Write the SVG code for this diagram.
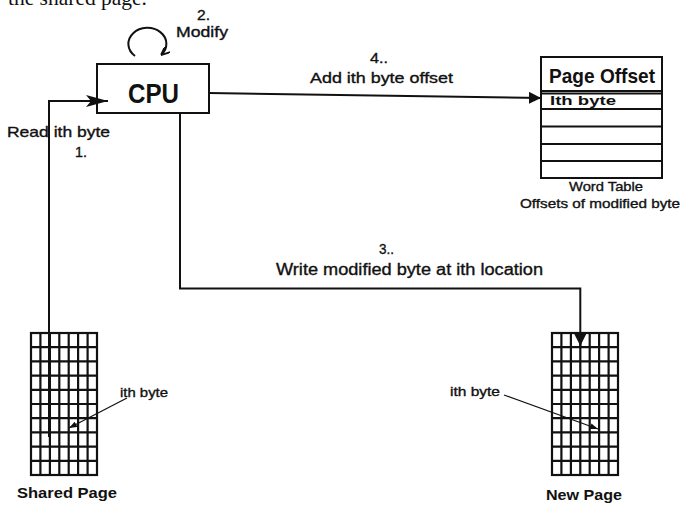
<svg xmlns="http://www.w3.org/2000/svg" width="681" height="505" viewBox="0 0 681 505">
<style>
  .lbl{font-family:"Liberation Sans",Arial,sans-serif;font-size:15px;fill:#111;stroke:#111;stroke-width:0.35px;}
  .sm{font-size:13px;}
  .b{font-weight:bold;stroke-width:0;}
  .ln{fill:none;stroke:#111;stroke-width:2;}
  .thin{fill:none;stroke:#111;stroke-width:1.2;}
  .grid{fill:#fff;stroke:#111;stroke-width:2.2;}
</style>
<defs>
  <marker id="tri" viewBox="0 0 12 12" refX="12" refY="6" markerWidth="12" markerHeight="12" markerUnits="userSpaceOnUse" orient="auto">
    <path d="M0,0 L12,6 L0,12 z" fill="#111"/>
  </marker>
  <marker id="barb" viewBox="0 0 22 12" refX="22" refY="6" markerWidth="22" markerHeight="12" markerUnits="userSpaceOnUse" orient="auto">
    <path d="M0,0 L22,6 L0,12 L5,6 z" fill="#111"/>
  </marker>
  <marker id="small" viewBox="0 0 8 6" refX="8" refY="3" markerWidth="8" markerHeight="6" markerUnits="userSpaceOnUse" orient="auto">
    <path d="M0,0 L8,3 L0,6 z" fill="#111"/>
  </marker>
  <marker id="loop" viewBox="0 0 9 8" refX="9" refY="4" markerWidth="9" markerHeight="8" markerUnits="userSpaceOnUse" orient="auto">
    <path d="M0,0 L9,4 L0,8" fill="none" stroke="#111" stroke-width="1.8"/>
  </marker>
</defs>
<rect width="681" height="505" fill="#fff"/>
<text x="8" y="5" font-family="Liberation Serif,'Times New Roman',serif" font-size="21" fill="#111" textLength="139" lengthAdjust="spacingAndGlyphs">the shared page.</text>

<g id="shared-page">
  <rect class="grid" x="31" y="333" width="66" height="142"/>
  <path class="grid" d="M40.4,333V475M49.9,333V475M59.3,333V475M68.7,333V475M78.1,333V475M87.6,333V475M31,347.2H97M31,361.4H97M31,375.6H97M31,389.8H97M31,404H97M31,418.2H97M31,432.4H97M31,446.6H97M31,460.8H97"/>
  <text class="lbl b" x="17" y="498" textLength="100" lengthAdjust="spacingAndGlyphs">Shared Page</text>
  <text class="lbl sm" x="120" y="397" textLength="48" lengthAdjust="spacingAndGlyphs">ith byte</text>
  <line class="thin" x1="127" y1="398" x2="69" y2="428" marker-end="url(#small)"/>
</g>

<g id="new-page">
  <rect class="grid" x="552" y="333" width="66" height="142"/>
  <path class="grid" d="M561.4,333V475M570.9,333V475M580.3,333V475M589.7,333V475M599.1,333V475M608.6,333V475M552,347.2H618M552,361.4H618M552,375.6H618M552,389.8H618M552,404H618M552,418.2H618M552,432.4H618M552,446.6H618M552,460.8H618"/>
  <text class="lbl b" x="546" y="500" textLength="76" lengthAdjust="spacingAndGlyphs">New Page</text>
  <text class="lbl sm" x="450" y="396" textLength="50" lengthAdjust="spacingAndGlyphs">ith byte</text>
  <line class="thin" x1="504" y1="395" x2="598" y2="429" marker-end="url(#small)"/>
</g>

<g id="cpu">
  <rect x="97" y="64" width="112" height="49" fill="#fff" stroke="#111" stroke-width="2"/>
  <text class="lbl b" x="128" y="103" style="font-size:27px" textLength="51" lengthAdjust="spacingAndGlyphs">CPU</text>
</g>

<g id="word-table">
  <rect x="541" y="57" width="121" height="121" fill="#fff" stroke="#111" stroke-width="2"/>
  <path class="ln" d="M541,91H662M541,93.5H662M541,109H662M541,126.5H662M541,144H662M541,161H662"/>
  <text class="lbl b" x="549" y="83" style="font-size:21px" textLength="106" lengthAdjust="spacingAndGlyphs">Page Offset</text>
  <text class="lbl b" x="550" y="105" style="font-size:12px" textLength="66" lengthAdjust="spacingAndGlyphs">Ith byte</text>
  <text class="lbl sm" x="606" y="191" text-anchor="middle" textLength="74" lengthAdjust="spacingAndGlyphs">Word Table</text>
  <text class="lbl sm" x="600" y="208" text-anchor="middle" textLength="160" lengthAdjust="spacingAndGlyphs">Offsets of modified byte</text>
</g>

<g id="connectors">
  <path class="ln" d="M49,437V101H108" marker-end="url(#barb)"/>
  <path class="ln" d="M180,113V288.5H580.3V346" marker-end="url(#tri)"/>
  <line class="ln" x1="209" y1="93" x2="541" y2="98" marker-end="url(#tri)"/>
  <path class="ln" d="M135,56 A19,16 0 1 1 161,55" marker-end="url(#loop)"/>
  <text class="lbl" x="197" y="20" textLength="13" lengthAdjust="spacingAndGlyphs">2.</text>
  <text class="lbl" x="176" y="37" textLength="52" lengthAdjust="spacingAndGlyphs">Modify</text>
  <text class="lbl" x="7" y="137" textLength="103" lengthAdjust="spacingAndGlyphs">Read ith byte</text>
  <text class="lbl" x="75" y="157" textLength="12" lengthAdjust="spacingAndGlyphs">1.</text>
  <text class="lbl" x="370" y="63" textLength="18" lengthAdjust="spacingAndGlyphs">4..</text>
  <text class="lbl" x="310" y="83" textLength="143" lengthAdjust="spacingAndGlyphs">Add ith byte offset</text>
  <text class="lbl" x="379" y="254" textLength="15" lengthAdjust="spacingAndGlyphs">3..</text>
  <text class="lbl" x="276" y="275" style="font-size:16px" textLength="267" lengthAdjust="spacingAndGlyphs">Write modified byte at ith location</text>
</g>
</svg>
